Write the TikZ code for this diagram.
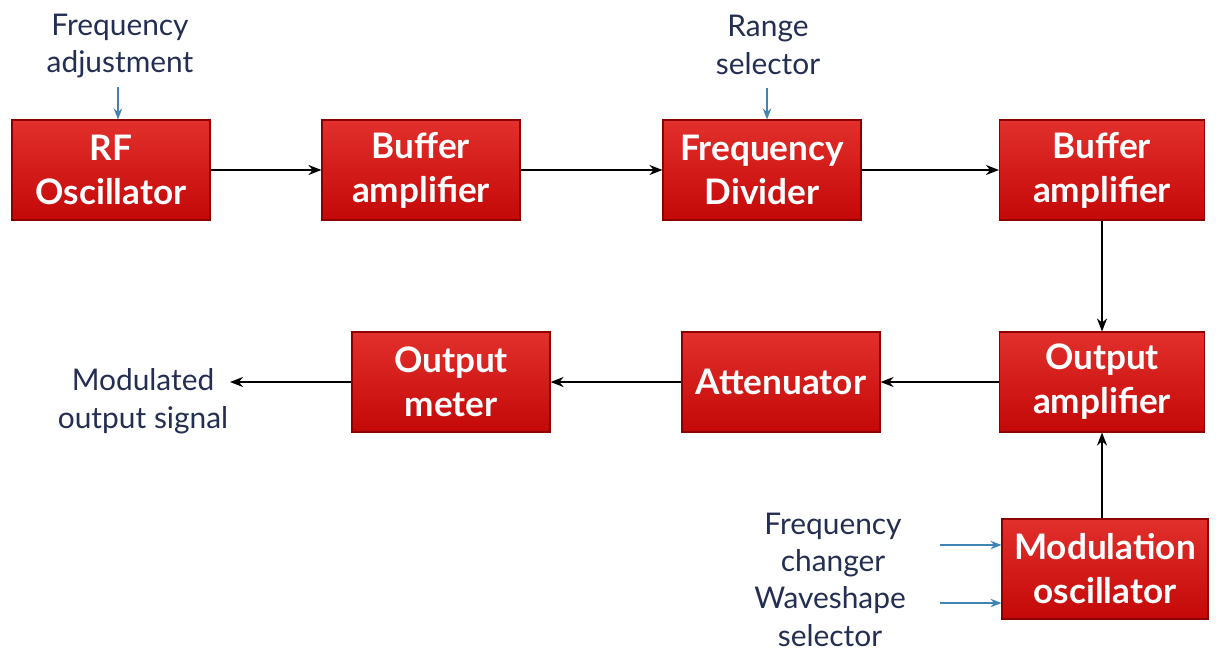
\documentclass[tikz,border=0pt]{standalone}
\usepackage{fontspec}
\setmainfont{Lato}
\usepackage{tikz}
\usetikzlibrary{positioning,arrows.meta,calc}
\definecolor{boxred}{RGB}{196,8,8}
\definecolor{boxlight}{RGB}{226,48,44}
\definecolor{boxedge}{RGB}{140,0,0}
\definecolor{labelblue}{RGB}{36,46,82}
\definecolor{ctrlblue}{RGB}{64,132,182}
\begin{document}
\begin{tikzpicture}[
  font=\fontsize{17}{21.5}\selectfont,
  >=Stealth,
  blockbox/.style={rectangle, draw=boxedge, line width=0.6pt, top color=boxlight, bottom color=boxred,
    minimum width=3.96cm, minimum height=2cm, align=center, text=white,
    font=\fontsize{20}{25}\selectfont\bfseries},
  sidetext/.style={align=center, text=labelblue},
  sigline/.style={->, draw=black, line width=1.2pt, >={Stealth[length=2.6mm,width=2mm]}},
  ctrlline/.style={->, draw=ctrlblue, line width=0.9pt, >={Stealth[length=2.2mm,width=1.7mm]}}
]
  \useasboundingbox (0,0) rectangle (24.4,-13.08);
  % upper row
  \node[blockbox] (rfosc) at (2.22,-3.40) {RF\\Oscillator};
  \node[blockbox] (bufamp1) at (8.42,-3.40) {Buffer\\amplifier};
  \node[blockbox] (freqdiv) at (15.24,-3.40) {Frequency\\Divider};
  \node[blockbox, minimum width=4.1cm] (bufamp2) at (22.04,-3.40) {Buffer\\amplifier};
  % lower row
  \node[blockbox, minimum width=4.1cm] (outamp) at (22.04,-7.64) {Output\\amplifier};
  \node[blockbox] (atten) at (15.62,-7.64) {Attenuator};
  \node[blockbox] (outmeter) at (9.02,-7.64) {Output\\meter};
  \node[blockbox, minimum width=4.12cm] (modosc) at (22.10,-11.38) {Modulation\\oscillator};
  % labels
  \node[sidetext] (freqadj) at (2.40,-0.92) {Frequency\\adjustment};
  \node[sidetext] (rangesel) at (15.36,-0.90) {Range\\selector};
  \node[sidetext] (modout) at (2.86,-8.02) {Modulated\\output signal};
  \node[sidetext] (freqchg) at (16.66,-10.90) {Frequency\\changer};
  \node[sidetext] (waveshp) at (16.60,-12.34) {Waveshape\\selector};
  \coordinate (adjtop) at (2.36,-1.74);
  \coordinate (rangetop) at (15.34,-1.76);
  \coordinate (chgstart) at (18.80,-10.90);
  \coordinate (wavestart) at (18.80,-12.06);
  \coordinate (outend) at (4.60,-7.64);
  % signal path
  \draw[sigline] (rfosc) -- (bufamp1);
  \draw[sigline] (bufamp1) -- (freqdiv);
  \draw[sigline] (freqdiv) -- (bufamp2);
  \draw[sigline] (bufamp2) -- (outamp);
  \draw[sigline] (outamp) -- (atten);
  \draw[sigline] (atten) -- (outmeter);
  \draw[sigline] (outmeter) -- (outend);
  \draw[sigline] (modosc.north -| outamp) -- (outamp.south);
  % control inputs
  \draw[ctrlline] (adjtop) -- (adjtop |- rfosc.north);
  \draw[ctrlline] (rangetop) -- (rangetop |- freqdiv.north);
  \draw[ctrlline] (chgstart) -- (chgstart -| modosc.west);
  \draw[ctrlline] (wavestart) -- (wavestart -| modosc.west);
\end{tikzpicture}
\end{document}
